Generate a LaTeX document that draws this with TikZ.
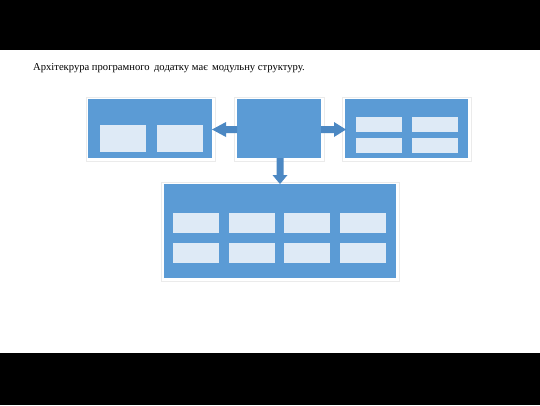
\documentclass[tikz,border=0pt]{standalone}
\usepackage{fontspec}
\setmainfont{Liberation Serif}
\definecolor{mainblue}{HTML}{5B9BD5}
\definecolor{arrowblue}{HTML}{4C88C3}
\definecolor{lightcell}{HTML}{DEEAF6}
\definecolor{edgegray}{HTML}{EBEBEB}
\tikzset{
  px/.style={x=1pt,y=-1pt},
  bigbox/.style={fill=mainblue,draw=none},
  cell/.style={fill=lightcell,draw=none},
  halo/.style={draw=edgegray,line width=0.6pt,fill=white},
  fatarrow/.style={fill=arrowblue,draw=none},
}
\begin{document}
\begin{tikzpicture}[px]
\useasboundingbox (0,0) rectangle (540,405);
\fill[white] (0,0) rectangle (540,405);
% black bars
\fill[black] (0,0) rectangle (540,50);
\fill[black] (0,353) rectangle (540,405);
% title
\node[anchor=base west,inner sep=0pt,font=\fontsize{10.6}{12}\selectfont] (title) at (33,70) {Архітекрура програмного\, додатку має\, модульну структуру.};
% halos
\draw[halo] (86,97) rectangle (215,161);
\draw[halo] (234,97) rectangle (324,161);
\draw[halo] (342,97) rectangle (471,161);
\draw[halo] (161,182) rectangle (399,281);
% left box
\fill[bigbox] (88,99) rectangle (212,158);
\fill[cell] (100,125) rectangle (146,152);
\fill[cell] (157,125) rectangle (203,152);
% center box
\fill[bigbox] (237,99) rectangle (321,158);
% right box
\fill[bigbox] (345,99) rectangle (468,158);
\foreach \x in {356,412}{
  \fill[cell] (\x,117) rectangle ++(46,15);
  \fill[cell] (\x,138) rectangle ++(46,15);
}
% bottom box
\fill[bigbox] (164,184) rectangle (396,278);
\foreach \x in {173,229,284,340}{
  \fill[cell] (\x,213) rectangle ++(46,20);
  \fill[cell] (\x,243) rectangle ++(46,20);
}
% arrows
\fill[fatarrow] (237,126) -- (226,126) -- (226,122) -- (212,129.5) -- (226,137) -- (226,133) -- (237,133) -- cycle;
\fill[fatarrow] (321,126) -- (334,126) -- (334,122) -- (346,129.5) -- (334,137) -- (334,133) -- (321,133) -- cycle;
\fill[fatarrow] (276.5,158) -- (276.5,175) -- (272.5,175) -- (280,184) -- (287.5,175) -- (283.5,175) -- (283.5,158) -- cycle;
\end{tikzpicture}
\end{document}
